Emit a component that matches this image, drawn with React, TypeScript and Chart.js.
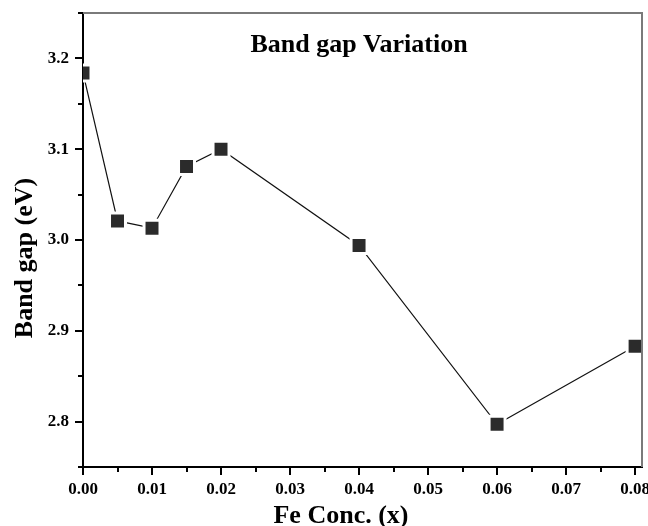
import React, { useEffect, useRef } from 'react';
import { Chart, registerables } from 'chart.js';

Chart.register(...registerables);

const feConc = [0, 0.005, 0.01, 0.015, 0.02, 0.04, 0.06, 0.08];
const bandGap = [3.184, 3.021, 3.013, 3.081, 3.1, 2.994, 2.797, 2.883];

const xTickValues = [0, 0.005, 0.01, 0.015, 0.02, 0.025, 0.03, 0.035, 0.04, 0.045, 0.05, 0.055, 0.06, 0.065, 0.07, 0.075, 0.08];
const yTickValues = [2.75, 2.8, 2.85, 2.9, 2.95, 3.0, 3.05, 3.1, 3.15, 3.2, 3.25];

const chartTitle = 'Band gap Variation';
const xTitle = 'Fe Conc. (x)';
const yTitle = 'Band gap (eV)';

const FONT = '"Liberation Serif", "Times New Roman", serif';

const isMajorX = (v: number) => Math.round(v * 1000) % 10 === 0;
const isMajorY = (v: number) => Math.round(v * 100) % 10 === 0;

const decorPlugin = {
  id: 'decor',
  afterDraw(chart: any) {
    const { ctx, chartArea } = chart;
    ctx.save();
    ctx.strokeStyle = '#7a7a7a';
    ctx.lineWidth = 2;
    ctx.beginPath();
    ctx.moveTo(chartArea.left, chartArea.top);
    ctx.lineTo(chartArea.right, chartArea.top);
    ctx.lineTo(chartArea.right, chartArea.bottom);
    ctx.stroke();

    ctx.fillStyle = '#000';
    ctx.font = `bold 26px ${FONT}`;
    ctx.textAlign = 'center';
    ctx.textBaseline = 'alphabetic';
    ctx.fillText(chartTitle, 359, 52);
    ctx.fillText(xTitle, 341, 523);
    ctx.translate(32, 258);
    ctx.rotate(-Math.PI / 2);
    ctx.fillText(yTitle, 0, 0);
    ctx.restore();
  },
};

export default function App() {
  const ref = useRef<HTMLCanvasElement>(null);

  useEffect(() => {
    document.body.style.margin = '0';
    document.body.style.overflow = 'hidden';
    const canvas = ref.current;
    if (!canvas) return;
    const chart = new Chart(canvas, {
      type: 'line',
      data: {
        datasets: [
          {
            data: feConc.map((x, i) => ({ x, y: bandGap[i] })),
            borderColor: '#111',
            borderWidth: 1.2,
            pointStyle: 'rect',
            pointRadius: 11.3,
            pointHoverRadius: 11.3,
            pointBackgroundColor: '#2b2b2b',
            pointBorderColor: '#ffffff',
            pointBorderWidth: 3,
            pointHoverBorderWidth: 3,
            tension: 0,
            clip: { left: 0, top: 0, right: 0, bottom: 0 },
          } as any,
        ],
      },
      options: {
        responsive: false,
        animation: false,
        events: [],
        layout: { autoPadding: false, padding: { top: 13, right: 6, left: 0, bottom: 0 } },
        plugins: {
          legend: { display: false },
          tooltip: { enabled: false },
          title: { display: false },
        },
        scales: {
          x: {
            type: 'linear',
            min: 0,
            max: 0.081,
            z: 1,
            border: { display: true, color: '#000', width: 2 },
            grid: {
              drawOnChartArea: false,
              drawTicks: true,
              tickLength: 8,
              color: '#000',
              tickColor: '#000',
              tickWidth: 2,
              lineWidth: 2,
              tickBorderDash: (ctx: any) => (ctx.tick && !isMajorX(ctx.tick.value) ? [4, 100] : []),
            } as any,
            ticks: {
              autoSkip: false,
              maxRotation: 0,
              includeBounds: false,
              padding: 4,
              color: '#000',
              font: { family: FONT, size: 17, weight: 'bold' },
              callback: (v: any) => (isMajorX(Number(v)) ? Number(v).toFixed(2) : ''),
            },
            afterBuildTicks: (scale: any) => {
              scale.ticks = xTickValues.map((v) => ({ value: v }));
            },
            afterFit: (scale: any) => {
              scale.height = 59;
              scale.paddingLeft = 0;
              scale.paddingRight = 0;
            },
          },
          y: {
            type: 'linear',
            min: 2.75,
            max: 3.25,
            z: 1,
            border: { display: true, color: '#000', width: 2 },
            grid: {
              drawOnChartArea: false,
              drawTicks: true,
              tickLength: 8,
              color: '#000',
              tickColor: '#000',
              tickWidth: 2,
              lineWidth: 2,
              tickBorderDash: (ctx: any) => (ctx.tick && !isMajorY(ctx.tick.value) ? [0, 3, 4, 100] : []),
            } as any,
            ticks: {
              autoSkip: false,
              includeBounds: false,
              padding: 6,
              color: '#000',
              font: { family: FONT, size: 17, weight: 'bold' },
              callback: (v: any) => (isMajorY(Number(v)) ? Number(v).toFixed(1) : ''),
            },
            afterBuildTicks: (scale: any) => {
              scale.ticks = yTickValues.map((v) => ({ value: v }));
            },
            afterFit: (scale: any) => {
              scale.width = 83;
              scale.paddingTop = 0;
              scale.paddingBottom = 0;
            },
          },
        },
      } as any,
      plugins: [decorPlugin],
    });
    return () => chart.destroy();
  }, []);

  return <canvas ref={ref} width={648} height={526} style={{ display: 'block' }} />;
}
